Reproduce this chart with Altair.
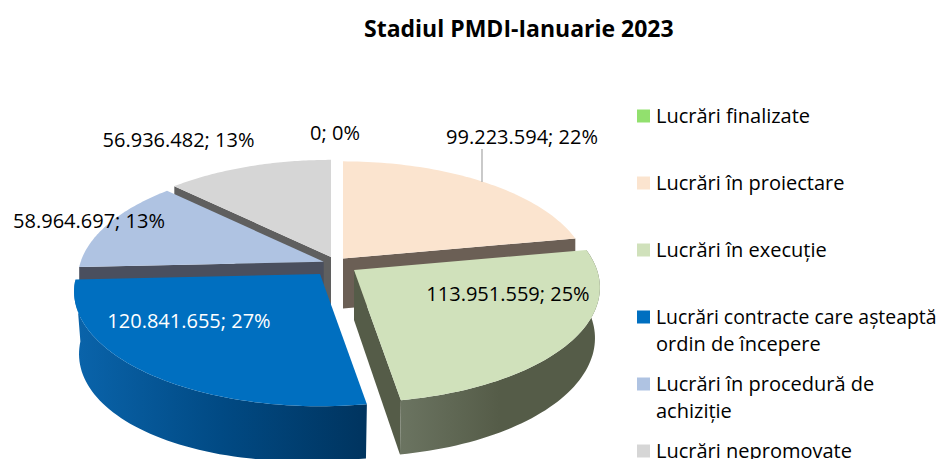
import math
import altair as alt
import pandas as pd

# ---- data ----
categories = ["Lucrări finalizate", "Lucrări în proiectare", "Lucrări în execuție",
              "Lucrări contracte care așteaptă", "Lucrări în procedură de", "Lucrări nepromovate"]
legend_second_lines = ["", "", "", "ordin de începere", "achiziție", ""]
values = [0, 99223594, 113951559, 120841655, 58964697, 56936482]
percents = [0, 22, 25, 27, 13, 13]
value_labels = ["0; 0%", "99.223.594; 22%", "113.951.559; 25%", "120.841.655; 27%",
                "58.964.697; 13%", "56.936.482; 13%"]

# ---- styles ----
top_colors = ["#92e06e", "#fbe4cf", "#d0e1bb", "#006fc0", "#afc3e2", "#d6d6d6"]
edge_colors = [None, "#6b5f55", "#555c48", None, "#4a4f5e", "#5f5f5f"]
label_colors = ["#000000"] * 3 + ["#ffffff"] + ["#000000"] * 2
legend_sizes = [20, 20, 20, 19.4, 20, 20]
FONT = "Open Sans"
LABEL_SIZE = 20

# ---- layout (chart coordinates: page pixels minus the 8px margin) ----
W, H = 928, 451
R, RP, K, DEPTH, SHRINK, LEFT_EXTRA = 243.0, 112.0, 0.153, 50.0, 0.98, 12.0
apex = {1: (335, 250.5), 2: (346, 262), 3: (312, 266), 4: (315.7, 253.7), 5: (323, 249)}
label_pos = [(327, 126), (514, 130), (500, 287), (181, 314), (81, 214), (170.5, 133)]
LEG_SQ_X, LEG_TX_X, LEG_Y0, LEG_PITCH, LEG_LINE, LEG_TEXT_DY = 635.5, 648, 108, 67, 27, 1

xs = alt.Scale(domain=[0, W], range=[0, W], zero=False, nice=False)
ys = alt.Scale(domain=[H, 0], zero=False, nice=False)
x_enc = alt.X("x:Q", scale=xs, axis=None)
y_enc = alt.Y("y:Q", scale=ys, axis=None)


def project(theta, idx, bottom=False):
    ax, ay = apex[idx]
    u, v = math.sin(theta), -math.cos(theta)
    s = 1 / (1 - K * v)
    if bottom:
        return (ax + SHRINK * R * u * s,
                ay + RP * v * s + DEPTH * math.sqrt(s) + LEFT_EXTRA * max(0.0, -u))
    return ax + R * u * s, ay + RP * v * s


def arc(t0, t1, idx, bottom=False, n=60):
    return [project(t0 + (t1 - t0) * j / n, idx, bottom) for j in range(n + 1)]


def poly(points, fill):
    df = pd.DataFrame(points, columns=["x", "y"])
    df["i"] = range(len(df))
    return alt.Chart(df).mark_line(interpolate="linear-closed", fill=fill, strokeWidth=0, clip=True).encode(
        x=x_enc, y=y_enc, order="i:Q"
    )


def grad(a, b, c=None):
    stops = [alt.GradientStop(offset=0, color=a)]
    if c:
        stops.append(alt.GradientStop(offset=0.5, color=c))
    stops.append(alt.GradientStop(offset=1, color=b))
    return alt.LinearGradient(gradient="linear", x1=0, y1=0, x2=1, y2=0, stops=stops)


total = sum(values)
angles = {}
cum = 0.0
for i, val in enumerate(values):
    angles[i] = (cum, cum + 2 * math.pi * val / total)
    cum = angles[i][1]

layers = []
# painter's order, back to front
for i in [5, 1, 4, 2, 3]:
    t0, t1 = angles[i]
    ax, ay = apex[i]
    apex_bottom = (ax, ay + DEPTH)
    if i in (4, 5):  # wall under the slice's starting radius
        p = project(t0, i)
        layers.append(poly([p, (ax, ay), apex_bottom, (p[0], p[1] + DEPTH)], edge_colors[i]))
    if i == 1:       # wall under the slice's ending radius
        p = project(t1, i)
        layers.append(poly([p, (ax, ay), apex_bottom, (p[0], p[1] + DEPTH)], edge_colors[i]))
    if i == 2:       # left inner wall and outer wall
        p, pb = project(t1, i), project(t1, i, True)
        layers.append(poly([(ax, ay), p, pb, apex_bottom], edge_colors[i]))
        layers.append(poly(arc(t0, t1, i) + arc(t0, t1, i, True)[::-1],
                           grad("#6b7461", "#555c48", "#555c48")))
    if i == 3:       # outer wall
        layers.append(poly(arc(t0, t1, i) + arc(t0, t1, i, True)[::-1],
                           grad("#0a64ab", "#00345f", "#014a84")))
    layers.append(poly([(ax, ay)] + arc(t0, t1, i), top_colors[i]))

# leader line of the 22% label
leader = alt.Chart(pd.DataFrame({"x": [474], "y": [141], "y2": [174]})).mark_rule(
    color="#a6a6a6", strokeWidth=1.2
).encode(x=x_enc, y=y_enc, y2="y2:Q")
layers.append(leader)

# data labels
lab_df = pd.DataFrame({
    "x": [p[0] for p in label_pos], "y": [p[1] for p in label_pos],
    "t": value_labels, "c": label_colors,
})
layers.append(alt.Chart(lab_df).mark_text(font=FONT, fontSize=LABEL_SIZE, align="center", baseline="middle").encode(
    x=x_enc, y=y_enc, text="t:N", color=alt.Color("c:N", scale=None)
))

# legend
leg_df = pd.DataFrame({
    "x": [LEG_SQ_X] * 6, "tx": [LEG_TX_X] * 6,
    "y": [LEG_Y0 + k * LEG_PITCH for k in range(6)],
    "y1st": [LEG_Y0 + k * LEG_PITCH + LEG_TEXT_DY for k in range(6)],
    "y2nd": [LEG_Y0 + k * LEG_PITCH + LEG_LINE + LEG_TEXT_DY for k in range(6)],
    "first": categories, "second": legend_second_lines, "col": top_colors, "fs": legend_sizes,
})
layers.append(alt.Chart(leg_df).mark_square(size=169, opacity=1, strokeWidth=0).encode(
    x=x_enc, y=y_enc, fill=alt.Fill("col:N", scale=None)
))
layers.append(alt.Chart(leg_df).mark_text(font=FONT, align="left", baseline="middle", color="#000000").encode(
    x=alt.X("tx:Q", scale=xs, axis=None), y=alt.Y("y1st:Q", scale=ys, axis=None), text="first:N",
    size=alt.Size("fs:Q", scale=None)
))
layers.append(alt.Chart(leg_df[leg_df["second"] != ""]).mark_text(font=FONT, fontSize=LABEL_SIZE, align="left", baseline="middle", color="#000000").encode(
    x=alt.X("tx:Q", scale=xs, axis=None), y=alt.Y("y2nd:Q", scale=ys, axis=None), text="second:N"
))

chart = alt.layer(*layers).properties(
    width=W, height=H, padding=0, autosize="none",
    title=alt.TitleParams("Stadiul PMDI-Ianuarie 2023", font=FONT, fontSize=23, fontWeight="bold",
                          color="#000000", anchor="start", frame="group", dx=356, dy=34, offset=0),
).configure_view(stroke=None)

chart.save("out.html", embed_options={"renderer": "svg", "actions": False})
